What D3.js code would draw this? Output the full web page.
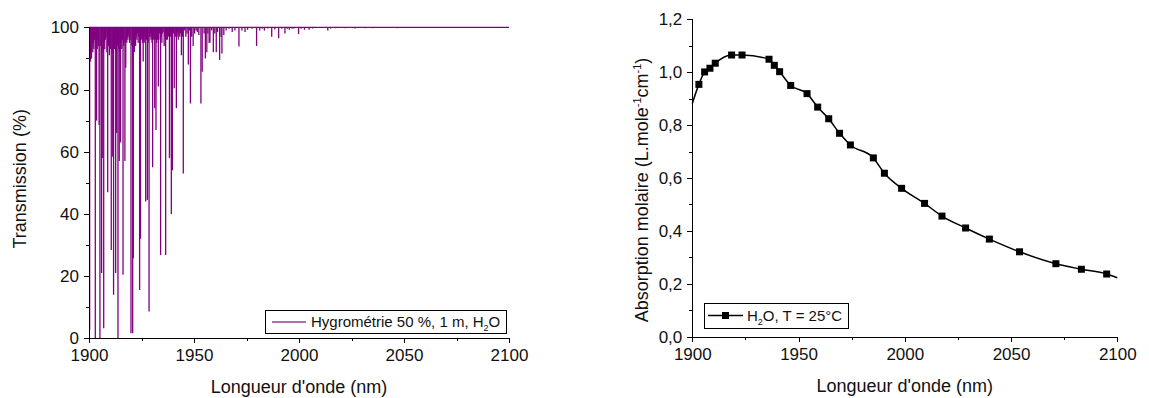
<!DOCTYPE html>
<html>
<head>
<meta charset="utf-8">
<script src="https://cdn.jsdelivr.net/npm/d3@7"></script>
<style>
  body { margin: 0; background: #fff; }
  svg { font-family: "Liberation Sans", Arial, sans-serif; }
  .axis path, .axis line { stroke: #000; stroke-width: 1px; shape-rendering: crispEdges; }
  .axis text { fill: #111; font-size: 17px; }
</style>
</head>
<body>
<svg id="chart" width="1149" height="398"></svg>
<script>
// left panel: transmission spectrum, dips as [nm, T%]
const specNm = [1900.3,1900.7,1901.0,1901.2,1901.5,1901.8,1902.1,1902.3,1902.6,1903.0,1903.3,1903.6,1903.9,1904.2,1904.5,1904.8,
  1905.2,1905.6,1906.0,1906.3,1906.6,1907.0,1907.3,1907.5,1907.8,1908.1,1908.5,1908.9,1909.3,1909.7,1910.0,1910.2,1910.6,
  1911.0,1911.3,1911.7,1912.0,1912.2,1912.5,1912.7,1913.0,1913.2,1913.5,1913.8,1914.1,1914.4,1914.7,1915.0,1915.3,1915.6,
  1915.9,1916.2,1916.5,1916.7,1917.1,1917.5,1917.8,1918.0,1918.3,1918.5,1918.8,1919.0,1919.3,1919.6,1920.0,1920.4,1920.8,
  1921.1,1921.4,1921.6,1921.9,1922.2,1922.5,1922.8,1923.1,1923.4,1923.7,1924.1,1924.5,1924.9,1925.2,1925.5,1925.8,1926.1,
  1926.3,1926.6,1927.0,1927.4,1927.8,1928.2,1928.6,1928.9,1929.2,1929.5,1929.7,1930.0,1930.3,1930.6,1930.8,1931.0,1931.3,
  1931.6,1931.9,1932.2,1932.4,1932.7,1933.0,1933.3,1933.6,1934.1,1934.4,1934.7,1935.0,1935.3,1935.8,1936.1,1936.5,1936.8,
  1937.0,1937.3,1937.5,1937.9,1938.3,1938.8,1939.2,1939.7,1940.2,1940.6,1941.1,1941.6,1941.9,1942.2,1942.5,1942.8,1943.2,
  1943.5,1944.0,1944.5,1944.9,1945.5,1946.1,1946.7,1947.3,1947.8,1948.3,1948.9,1949.6,1950.3,1951.0,1951.6,1952.3,1953.3,
  1953.9,1954.8,1955.4,1956.1,1956.6,1957.2,1957.6,1958.4,1959.2,1959.9,1960.6,1961.2,1962.2,1962.9,1963.3,1964.2,1965.3,
  1966.7,1968.2,1969.5,1971.4,1972.8,1974.3,1975.5,1977.6,1979.8,1981.3,1982.5,1983.5,1985.2,1987.0,1988.5,1990.3,1991.8,
  1993.3,1994.4,1995.4,1996.7,1997.5,1999.8,2001.0,2002.6,2004.8,2006.5,2013.7,2015.0,2017.5,2022.0,2026.6,2031.5,2035.2,
  2040.0,2046.7,2052.5,2060.0,2068.0,2075.0,2083.0,2090.0];
const specT = [2.7,89,91,90,94,92,95,93,96,0,95,70,93,96,94,68.6,
  0,94,21,58,92,3.2,95,93,96,97,92,47,94,91,95,93,28.4,
  92,58.4,14,94,93,96,21,92,66,94,0,93,57,92,63,95,93,
  96,20.4,94,95,57,87,96,95,97,96,98,97,95,96,1.6,94,1.6,
  25.7,95,92,96,94,97,96,98,95,97,15.5,32,96,98,95,89,96,
  95,97,44,96,44.5,95,8.6,97,98,96,97,95,55,97,96,98,74,
  96,67,95,97,96,81,96,98,26.8,97,95,98,98.5,94,97,26.8,96,
  98,96,98.5,97,58,97,40,54,98,80.4,97,74,97,98,96,99,97,
  98,91,97,53,99,97,98,88,99,75.5,97,94,98,99,98.5,97.5,75.5,
  85.7,98,90,92,98,95,95,99,92,98,92,98.5,89.5,97,91.6,97.5,99,
  99.5,98.5,99,93.8,99,98.5,99.2,99.5,94,99,99.5,99,99.6,97,99.3,96.5,99.5,
  98,99.5,99.2,99.5,99.6,97.8,99.5,99.2,99.2,99.6,99,99.6,99.7,99.7,99.6,99.7,99.7,
  99.8,99.7,99.8,99.8,99.8,99.8,99.8,99.8];

// right panel: molar absorption of water
const absNm = [1903.1,1905.8,1908.3,1910.8,1918.5,1923.4,1936.1,1938.6,1941.1,1946.3,1954.0,1959.0,1964.2,1969.3,
  1974.4,1985.2,1990.4,1998.5,2009.3,2017.5,2028.6,2039.8,2054.0,2071.1,2083.1,2095.0];
const absVal = [0.954,1.001,1.015,1.034,1.065,1.065,1.049,1.026,1.002,0.950,0.919,0.868,0.824,0.769,
  0.725,0.676,0.618,0.561,0.504,0.456,0.411,0.369,0.321,0.276,0.255,0.237];
// curve ends drawn past the markers
const absEndNm = [1900, 2100];
const absEndVal = [0.882, 0.223];

const xTicks = [1900, 1950, 2000, 2050, 2100];
const xMinor = [1925, 1975, 2025, 2075];
const leftYTicks = [0, 20, 40, 60, 80, 100];
const leftYMinor = [10, 30, 50, 70, 90];
const rightYTicks = [0, 0.2, 0.4, 0.6, 0.8, 1.0, 1.2];
const rightYMinor = [0.1, 0.3, 0.5, 0.7, 0.9, 1.1];

const svg = d3.select("#chart");

function drawAxes(g, x, y, yTicks, yMinor, yFmt) {
  g.append("g").attr("class", "axis")
    .attr("transform", "translate(0," + y.range()[0] + ")")
    .call(d3.axisBottom(x).tickValues(xMinor).tickSize(3).tickFormat(""));
  g.append("g").attr("class", "axis")
    .attr("transform", "translate(0," + y.range()[0] + ")")
    .call(d3.axisBottom(x).tickValues(xTicks).tickSize(5).tickSizeOuter(0).tickPadding(6).tickFormat(d3.format("d")));
  g.append("g").attr("class", "axis")
    .attr("transform", "translate(" + x.range()[0] + ",0)")
    .call(d3.axisLeft(y).tickValues(yMinor).tickSize(3).tickFormat(""));
  g.append("g").attr("class", "axis")
    .attr("transform", "translate(" + x.range()[0] + ",0)")
    .call(d3.axisLeft(y).tickValues(yTicks).tickSize(5).tickSizeOuter(0).tickPadding(5).tickFormat(yFmt));
  g.selectAll(".axis text").style("font-size", "17px");
}

// ---- left chart
const xL = d3.scaleLinear().domain([1900, 2100]).range([89, 509]);
const yL = d3.scaleLinear().domain([0, 100]).range([338.3, 27.3]);
const left = svg.append("g");

left.append("line")
  .attr("x1", xL(1900)).attr("x2", xL(2100))
  .attr("y1", yL(100)).attr("y2", yL(100))
  .attr("stroke", "#800080").attr("stroke-width", 1.3);

left.selectAll("line.dip")
  .data(specNm.map((d, i) => ({nm: d, t: specT[i]})))
  .join("line")
  .attr("class", "dip")
  .attr("x1", d => xL(d.nm)).attr("x2", d => xL(d.nm))
  .attr("y1", yL(100)).attr("y2", d => yL(d.t))
  .attr("stroke", "#800080").attr("stroke-width", 1.3);

drawAxes(left, xL, yL, leftYTicks, leftYMinor, d3.format("d"));

left.append("text")
  .attr("x", (xL(1900) + xL(2100)) / 2).attr("y", 393)
  .attr("text-anchor", "middle").style("font-size", "18px").attr("fill", "#111")
  .text("Longueur d'onde (nm)");
left.append("text")
  .attr("transform", "translate(26," + (yL(50) - 4) + ") rotate(-90)")
  .attr("text-anchor", "middle").style("font-size", "18px").attr("fill", "#111")
  .text("Transmission (%)");

// legend
const legL = left.append("g");
legL.append("rect").attr("x", 265.5).attr("y", 310.5).attr("width", 241).attr("height", 23)
  .attr("fill", "#fff").attr("stroke", "#000").attr("stroke-width", 1);
legL.append("line").attr("x1", 272).attr("x2", 306).attr("y1", 322).attr("y2", 322)
  .attr("stroke", "#b36bb3").attr("stroke-width", 2);
const tL = legL.append("text").attr("x", 311).attr("y", 327).style("font-size", "15px").attr("fill", "#111");
tL.append("tspan").text("Hygrométrie 50 %, 1 m, H");
tL.append("tspan").attr("dy", 4).style("font-size", "9px").text("2");
tL.append("tspan").attr("dy", -4).text("O");

// ---- right chart
const xR = d3.scaleLinear().domain([1900, 2100]).range([692.3, 1117.3]);
const yR = d3.scaleLinear().domain([0, 1.2]).range([336.7, 19.3]);
const right = svg.append("g");

const pts = absNm.map((d, i) => ({nm: d, v: absVal[i]}));
const curvePts = [{nm: absEndNm[0], v: absEndVal[0]}].concat(pts, [{nm: absEndNm[1], v: absEndVal[1]}]);

right.append("path")
  .datum(curvePts)
  .attr("fill", "none").attr("stroke", "#000").attr("stroke-width", 1.5)
  .attr("d", d3.line().x(d => xR(d.nm)).y(d => yR(d.v)).curve(d3.curveMonotoneX));

right.selectAll("rect.pt")
  .data(pts)
  .join("rect")
  .attr("class", "pt")
  .attr("x", d => xR(d.nm) - 3.5).attr("y", d => yR(d.v) - 3.5)
  .attr("width", 7).attr("height", 7).attr("fill", "#000");

drawAxes(right, xR, yR, rightYTicks, rightYMinor, d => d3.format(".1f")(d).replace(".", ","));

right.append("text")
  .attr("x", (xR(1900) + xR(2100)) / 2).attr("y", 392)
  .attr("text-anchor", "middle").style("font-size", "18px").attr("fill", "#111")
  .text("Longueur d'onde (nm)");
const tY = right.append("text")
  .attr("transform", "translate(648,190) rotate(-90)")
  .attr("text-anchor", "middle").style("font-size", "18px").attr("fill", "#111");
tY.append("tspan").text("Absorption molaire (L.mole");
tY.append("tspan").attr("dy", -7).style("font-size", "11px").text("-1");
tY.append("tspan").attr("dy", 7).text("cm");
tY.append("tspan").attr("dy", -7).style("font-size", "11px").text("-1");
tY.append("tspan").attr("dy", 7).text(")");

const legR = right.append("g");
legR.append("rect").attr("x", 704.5).attr("y", 303.5).attr("width", 144).attr("height", 25)
  .attr("fill", "#fff").attr("stroke", "#000").attr("stroke-width", 1);
legR.append("line").attr("x1", 708).attr("x2", 743).attr("y1", 315.5).attr("y2", 315.5)
  .attr("stroke", "#000").attr("stroke-width", 1.5);
legR.append("rect").attr("x", 722).attr("y", 312).attr("width", 7).attr("height", 7).attr("fill", "#000");
const tR = legR.append("text").attr("x", 747).attr("y", 321).style("font-size", "15px").attr("fill", "#111");
tR.append("tspan").text("H");
tR.append("tspan").attr("dy", 4).style("font-size", "9px").text("2");
tR.append("tspan").attr("dy", -4).text("O, T = 25°C");
</script>
</body>
</html>
